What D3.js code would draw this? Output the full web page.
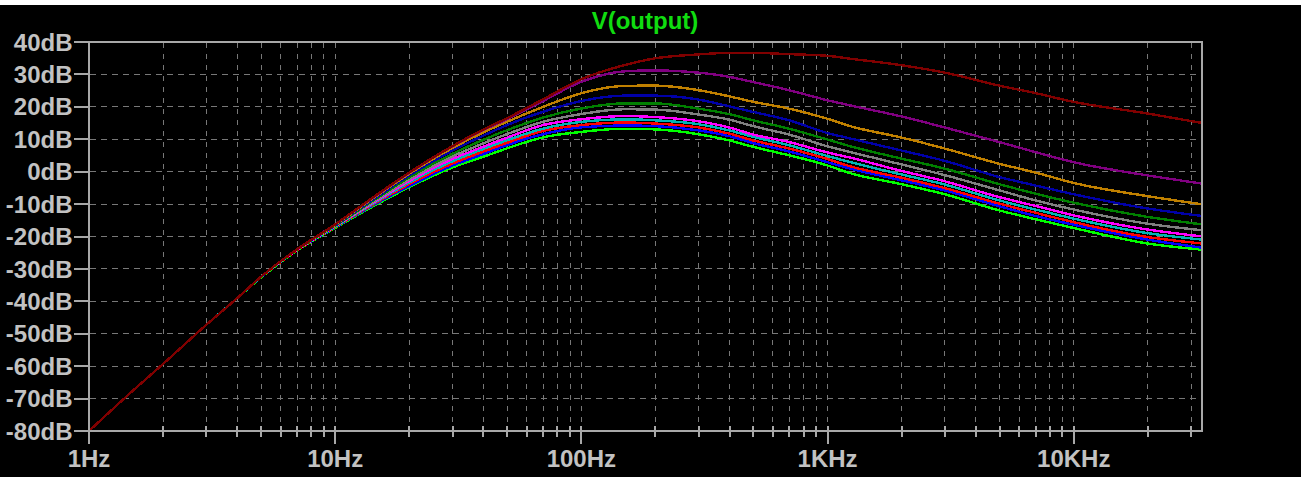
<!DOCTYPE html>
<html>
<head>
<meta charset="utf-8">
<script src="https://cdn.jsdelivr.net/npm/d3@7"></script>
<style>
  html, body { margin: 0; padding: 0; background: #000; }
  svg { display: block; }
  text { font-family: "Liberation Sans", Arial, sans-serif; font-weight: bold; }
</style>
</head>
<body>
<svg id="chart" width="1301" height="477"></svg>
<script>
// Frequency sweep points (Hz)
const freqs = [1, 1.5, 2, 3, 4, 5, 7, 10, 15, 20, 30, 40, 50, 70, 100, 150, 200, 300, 400, 500, 700, 1000, 1240, 2000, 3000, 5000, 7000, 10000, 20000, 33200];

// Magnitude of V(output) in dB for each stepped run
const runGreen   = [-80.3, -68.0, -59.6, -47.5, -39.3, -32.9, -24.6, -17.6, -10.0, -5.0, 1.1, 4.4, 7.0, 10.4, 12.1, 13.1, 12.9, 11.4, 9.5, 7.5, 4.9, 1.8, -0.6, -4.0, -7.1, -12.1, -14.8, -17.5, -22.3, -24.2];
const runBlue    = [-80.3, -68.0, -59.6, -47.5, -39.3, -32.8, -24.5, -17.4, -9.7, -4.6, 1.7, 5.2, 8.0, 11.4, 13.5, 14.1, 13.9, 12.6, 10.8, 8.7, 6.1, 2.8, 0.8, -2.8, -5.9, -10.8, -13.8, -16.5, -21.1, -23.6];
const runRed     = [-80.3, -68.0, -59.6, -47.5, -39.3, -32.8, -24.5, -17.3, -9.4, -4.1, 2.3, 6.0, 8.7, 12.4, 14.2, 15.0, 14.7, 13.5, 11.6, 9.5, 7.0, 3.8, 1.5, -2.0, -5.2, -10.0, -12.8, -15.7, -20.3, -22.3];
const runCyan    = [-80.3, -68.0, -59.6, -47.5, -39.3, -32.8, -24.4, -17.2, -9.1, -3.6, 3.0, 6.8, 9.5, 13.1, 15.2, 16.0, 15.7, 14.5, 12.6, 10.6, 8.0, 4.7, 2.8, -1.0, -4.1, -9.0, -11.8, -14.6, -19.1, -21.1];
const runMagenta = [-80.3, -68.0, -59.6, -47.5, -39.3, -32.7, -24.4, -17.1, -8.8, -3.1, 3.7, 7.5, 10.3, 14.2, 16.0, 17.0, 16.7, 15.4, 13.5, 11.3, 9.0, 5.8, 4.2, 0.1, -3.1, -8.0, -10.7, -13.6, -18.0, -20.1];
const runGray    = [-80.3, -68.0, -59.6, -47.5, -39.3, -32.7, -24.3, -17.0, -8.5, -2.6, 4.5, 8.5, 11.4, 15.2, 17.6, 19.1, 19.0, 17.5, 15.9, 13.9, 11.3, 7.7, 5.9, 2.1, -1.2, -5.9, -9.0, -11.8, -16.2, -18.2];
const runDkGreen = [-80.3, -68.0, -59.6, -47.5, -39.3, -32.7, -24.3, -16.9, -8.1, -2.0, 5.3, 9.6, 12.6, 16.5, 19.3, 20.9, 20.9, 19.3, 17.6, 15.7, 13.1, 9.8, 7.7, 3.9, 0.8, -4.0, -6.9, -9.7, -14.1, -16.4];
const runDkBlue  = [-80.3, -68.0, -59.6, -47.5, -39.3, -32.7, -24.2, -16.7, -7.7, -1.4, 6.3, 10.9, 14.2, 18.3, 21.6, 23.3, 23.3, 22.1, 20.0, 18.3, 15.7, 11.8, 10.1, 6.4, 3.2, -1.8, -4.4, -7.1, -11.5, -13.8];
const runOrange  = [-80.3, -68.0, -59.6, -47.5, -39.3, -32.7, -24.2, -16.6, -7.3, -0.9, 7.1, 11.9, 15.2, 19.8, 24.0, 26.3, 26.4, 25.0, 23.1, 21.4, 19.3, 16.2, 13.9, 10.4, 7.0, 2.3, -0.4, -3.6, -7.7, -10.2];
const runPurple  = [-80.3, -68.0, -59.6, -47.5, -39.3, -32.7, -24.2, -16.5, -7.1, -0.6, 7.6, 12.6, 16.0, 21.6, 27.5, 30.8, 31.1, 30.4, 29.1, 27.5, 25.0, 21.9, 20.3, 16.9, 13.5, 9.0, 5.9, 2.8, -1.3, -3.8];
const runDkRed   = [-80.3, -68.0, -59.6, -47.5, -39.3, -32.7, -24.2, -16.5, -7.0, -0.5, 7.7, 12.8, 16.3, 22.1, 28.3, 32.7, 34.8, 36.0, 36.5, 36.5, 36.1, 35.6, 34.7, 32.7, 30.4, 26.4, 24.1, 21.4, 17.8, 14.9];

// Drawn in step order; the last run ends up on top
const runs = [
  { values: runGreen,   color: "#00ff00" },
  { values: runBlue,    color: "#0000ff" },
  { values: runRed,     color: "#ff0000" },
  { values: runCyan,    color: "#00b4b4" },
  { values: runMagenta, color: "#ff00ff" },
  { values: runGray,    color: "#808080" },
  { values: runDkGreen, color: "#008000" },
  { values: runDkBlue,  color: "#0000a8" },
  { values: runOrange,  color: "#c08000" },
  { values: runPurple,  color: "#800080" },
  { values: runDkRed,   color: "#800000" }
];

// Axis ticks
const yTicks = [40, 30, 20, 10, 0, -10, -20, -30, -40, -50, -60, -70, -80];
const xMajor = [1, 10, 100, 1000, 10000];
const xMajorLabels = ["1Hz", "10Hz", "100Hz", "1KHz", "10KHz"];
const title = "V(output)";

const svg = d3.select("#chart");
const W = 1301, H = 477;
const plotL = 88.5, plotR = 1201.5, plotT = 41.5, plotB = 430.5;

svg.append("rect").attr("width", W).attr("height", H).attr("fill", "#000");
svg.append("rect").attr("width", W).attr("height", 5).attr("fill", "#fff");

const x = d3.scaleLog().domain([1, 33200]).range([plotL, plotR]);
const y = d3.scaleLinear().domain([-80, 40]).range([plotB, plotT]);

// Minor + major frequency positions across the span
const xGrid = [];
for (let dec = 1; dec <= 10000; dec *= 10) {
  for (let m = 1; m <= 9; m++) {
    const f = dec * m;
    if (f > 1 && f < 33200) xGrid.push(f);
  }
}

const gridColor = "#787878";
const axisColor = "#a8a8a8";
const textColor = "#c2c2c2";

// Dashed grid
const grid = svg.append("g");
grid.selectAll("line.v").data(xGrid).join("line")
  .attr("x1", d => Math.round(x(d)) + 0.5).attr("x2", d => Math.round(x(d)) + 0.5)
  .attr("y1", plotT + 1).attr("y2", plotB - 1)
  .attr("stroke", gridColor).attr("stroke-width", 1)
  .attr("stroke-dasharray", "5,6").attr("shape-rendering", "crispEdges");
grid.selectAll("line.h").data(yTicks.filter(d => d !== 40 && d !== -80)).join("line")
  .attr("x1", plotL + 1).attr("x2", plotR - 1)
  .attr("y1", d => Math.round(y(d)) + 0.5).attr("y2", d => Math.round(y(d)) + 0.5)
  .attr("stroke", gridColor).attr("stroke-width", 1)
  .attr("stroke-dasharray", "6,5").attr("shape-rendering", "crispEdges");

// Traces
const line = d3.line()
  .x((d, i) => x(freqs[i]))
  .y(d => y(d))
  .curve(d3.curveMonotoneX);

const traces = svg.append("g");
runs.forEach(r => {
  traces.append("path")
    .attr("d", line(r.values))
    .attr("fill", "none")
    .attr("stroke", r.color)
    .attr("stroke-width", 2.4)
    .attr("stroke-linejoin", "round")
    .attr("shape-rendering", "crispEdges");
});

// Plot frame
svg.append("rect")
  .attr("x", plotL).attr("y", plotT)
  .attr("width", plotR - plotL).attr("height", plotB - plotT)
  .attr("fill", "none").attr("stroke", axisColor).attr("stroke-width", 2)
  .attr("shape-rendering", "crispEdges");

// Left axis: ticks and dB labels
const yAxis = d3.axisLeft(y).tickValues(yTicks).tickSize(15).tickPadding(1)
  .tickFormat(d => d + "dB");
const gy = svg.append("g").attr("transform", `translate(${plotL},0)`).call(yAxis);
gy.select(".domain").remove();
gy.selectAll(".tick line").attr("stroke", axisColor).attr("stroke-width", 2)
  .attr("shape-rendering", "crispEdges");
gy.selectAll(".tick text").attr("fill", textColor)
  .style("font-size", "24px").style("font-family", "'Liberation Sans', Arial, sans-serif")
  .style("font-weight", "bold").attr("dy", "0.36em");

// Bottom axis: minor ticks
const xMinor = d3.axisBottom(x).tickValues(xGrid.filter(f => !xMajor.includes(f)))
  .tickSizeInner(6).tickSizeOuter(0).tickFormat("");
const gxm = svg.append("g").attr("transform", `translate(0,${plotB - 5})`).call(xMinor);
gxm.select(".domain").remove();
gxm.selectAll(".tick line").attr("stroke", axisColor).attr("stroke-width", 2)
  .attr("y2", 11).attr("shape-rendering", "crispEdges");

// Bottom axis: decade ticks and labels
const xAxis = d3.axisBottom(x).tickValues(xMajor).tickSizeInner(18).tickSizeOuter(0)
  .tickPadding(6).tickFormat((d, i) => xMajorLabels[i]);
const gx = svg.append("g").attr("transform", `translate(0,${plotB - 5})`).call(xAxis);
gx.select(".domain").remove();
gx.selectAll(".tick line").attr("stroke", axisColor).attr("stroke-width", 2)
  .attr("shape-rendering", "crispEdges");
gx.selectAll(".tick text").attr("fill", textColor)
  .style("font-size", "24px").style("font-family", "'Liberation Sans', Arial, sans-serif")
  .style("font-weight", "bold");

// Title
svg.append("text")
  .attr("x", (plotL + plotR) / 2).attr("y", 28.5)
  .attr("text-anchor", "middle")
  .attr("fill", "#10dc10")
  .style("font-size", "24px")
  .text(title);
</script>
</body>
</html>
